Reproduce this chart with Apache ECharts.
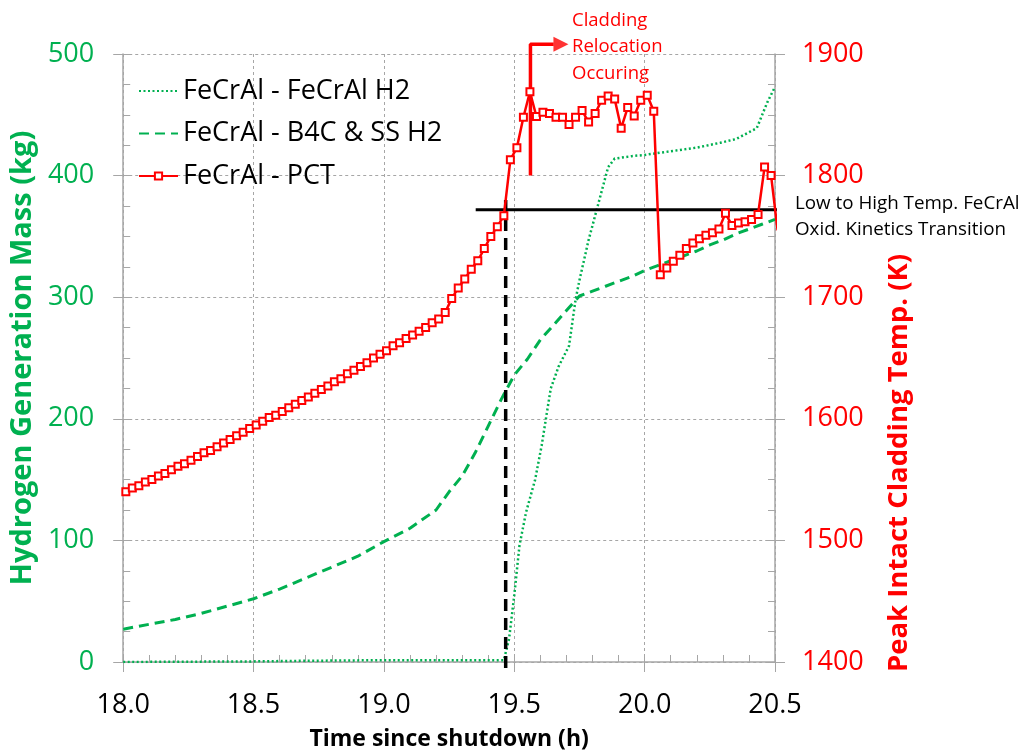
<!DOCTYPE html>
<html><head><meta charset="utf-8">
<script src="https://cdn.jsdelivr.net/npm/echarts@6/dist/echarts.min.js"></script>
<style>html,body{margin:0;padding:0;background:#fff}#c{width:1024px;height:756px}</style>
</head><body><div id="c"></div>
<script>
// ---- data ----
const seriesNames = ['FeCrAl - FeCrAl H2', 'FeCrAl - B4C & SS H2', 'FeCrAl - PCT'];

// FeCrAl H2 (kg), left axis
const feH2Time = [18.0, 18.5, 18.7, 19.0, 19.2, 19.46, 19.465, 19.48, 19.5, 19.52, 19.545, 19.58, 19.605, 19.625, 19.64, 19.67, 19.71, 19.735, 19.75, 19.785, 19.82, 19.86, 19.885, 19.95, 20.0, 20.1, 20.2, 20.29, 20.35, 20.43, 20.47, 20.5];
const feH2Mass = [0, 0.5, 1, 1.5, 1.5, 1.5, 2, 19, 55, 96, 123, 150, 178, 205, 225, 243, 260, 298, 314, 347, 375, 407, 414, 416, 417, 420, 423, 427, 430, 439, 460, 473];

// B4C & SS H2 (kg), left axis
const b4cTime = [18.0, 18.1, 18.2, 18.3, 18.4, 18.5, 18.6, 18.7, 18.8, 18.9, 19.0, 19.1, 19.2, 19.25, 19.3, 19.35, 19.4, 19.45, 19.5, 19.55, 19.6, 19.65, 19.7, 19.75, 19.8, 19.85, 19.9, 19.95, 20.0, 20.05, 20.1, 20.15, 20.2, 20.25, 20.3, 20.35, 20.4, 20.45, 20.5];
const b4cMass = [27, 31, 35, 40, 46, 52, 60, 69, 78, 87, 99, 110, 125, 140, 153, 172, 194, 216, 236, 249, 265, 277, 289, 301, 305, 309, 313, 317, 322, 326, 330, 334, 338, 343, 347, 352, 356, 360, 364];

// Peak cladding temperature (K), right axis
const pctTime = [18.010, 18.035, 18.060, 18.085, 18.110, 18.135, 18.160, 18.185, 18.210, 18.235,
  18.260, 18.285, 18.310, 18.335, 18.360, 18.385, 18.410, 18.435, 18.460, 18.485,
  18.510, 18.535, 18.560, 18.585, 18.610, 18.635, 18.660, 18.685, 18.710, 18.735,
  18.760, 18.785, 18.810, 18.835, 18.860, 18.885, 18.910, 18.935, 18.960, 18.985,
  19.010, 19.035, 19.060, 19.085, 19.110, 19.135, 19.160, 19.185, 19.210, 19.235,
  19.260, 19.285, 19.310, 19.335, 19.360, 19.385, 19.410, 19.435, 19.460, 19.485,
  19.510, 19.535, 19.560, 19.585, 19.610, 19.635, 19.660, 19.685, 19.710, 19.735,
  19.760, 19.785, 19.810, 19.835, 19.860, 19.885, 19.910, 19.935, 19.960, 19.985,
  20.010, 20.035, 20.060, 20.085, 20.110, 20.135, 20.160, 20.185, 20.210, 20.235,
  20.260, 20.285, 20.310, 20.335, 20.360, 20.385, 20.410, 20.435, 20.460, 20.485, 20.510];
const pctTemp = [1540, 1543, 1545, 1548, 1550, 1553, 1555, 1558, 1561, 1563,
  1566, 1569, 1572, 1574, 1577, 1580, 1583, 1586, 1589, 1592,
  1595, 1598, 1601, 1603, 1606, 1609, 1612, 1615, 1618, 1621,
  1624, 1627, 1630.5, 1633, 1637, 1640, 1643, 1646, 1650, 1653,
  1656, 1660, 1662.5, 1666, 1669, 1672, 1675, 1679, 1682, 1687.5,
  1699, 1707.5, 1715, 1723, 1730, 1740, 1750, 1758, 1767, 1813,
  1823, 1848, 1869, 1848.5, 1852, 1851, 1848, 1848, 1842, 1848,
  1853.5, 1844, 1851, 1862, 1865.5, 1863, 1839, 1856, 1849, 1862,
  1866, 1853, 1718.5, 1724, 1729.5, 1734.5, 1740, 1744.5, 1748, 1751,
  1753, 1756, 1769, 1759, 1761, 1762, 1764, 1768, 1807, 1800, 1755];

// annotation lines
const transitionTemp = 1772;           // K
const transitionSpan = [19.352, 20.557];
const onsetTime = 19.467;              // h
const onsetSpan = [1780, 1394];        // K
const relocTime = 19.562;
const relocArrowY = [1800, 1908];
const relocArrowEnd = 19.651;
const relocArrowHead = 19.679;

const xMin = 18.0, xMax = 20.5, xStep = 0.5;
const yLeft = [0, 500, 100];
const yRight = [1400, 1900, 100];

const FONT = 'Open Sans';
const GREEN = '#00B050', RED = '#FF0000';

const pair = (xs, ys) => xs.map((x, i) => [x, ys[i]]);

const chart = echarts.init(document.getElementById('c'));
const axisLineStyle = { color: '#a6a6a6', width: 1.5 };
const gridLine = { show: true, lineStyle: { color: '#a6a6a6', type: [3, 3], width: 1 } };

chart.setOption({
  animation: false,
  backgroundColor: '#fff',
  grid: { left: 117.5, right: 249, top: 54, bottom: 93 },
  legend: {
    data: [
      { name: seriesNames[0], itemStyle: { opacity: 0 } },
      { name: seriesNames[1], itemStyle: { opacity: 0 } },
      { name: seriesNames[2] }
    ],
    orient: 'vertical',
    left: 133, top: 72,
    itemWidth: 39, itemHeight: 9, itemGap: 14.5,
    textStyle: { fontFamily: FONT, fontSize: 27, color: '#000', lineHeight: 28 }
  },
  xAxis: [{
    type: 'value', min: xMin, max: xMax, interval: xStep,
    axisLine: { show: true, lineStyle: axisLineStyle },
    axisTick: { show: true, length: 10, lineStyle: { color: '#a6a6a6' } },
    axisLabel: { fontFamily: FONT, fontSize: 27, color: '#000', margin: 30, formatter: v => v.toFixed(1) },
    splitLine: gridLine,
    name: 'Time since shutdown (h)', nameLocation: 'middle', nameGap: 66,
    nameTextStyle: { fontFamily: FONT, fontSize: 23, fontWeight: 'bold', color: '#000' }
  }, {
    type: 'value', min: xMin, max: xMax, interval: 0.1, position: 'bottom',
    axisLine: { show: false }, axisLabel: { show: false }, splitLine: { show: false },
    axisTick: { show: true, inside: true, length: 7, lineStyle: { color: '#a6a6a6' } }
  }],
  yAxis: [{
    type: 'value', min: yLeft[0], max: yLeft[1], interval: yLeft[2], position: 'left',
    axisLine: { show: true, lineStyle: axisLineStyle },
    axisTick: { show: true, length: 10, lineStyle: { color: '#a6a6a6' } },
    axisLabel: { fontFamily: FONT, fontSize: 27, color: GREEN, margin: 29 },
    splitLine: gridLine,
    name: 'Hydrogen Generation Mass (kg)', nameLocation: 'middle', nameGap: 86, nameRotate: 90,
    nameTextStyle: { fontFamily: FONT, fontSize: 29, fontWeight: 'bold', color: GREEN }
  }, {
    type: 'value', min: yRight[0], max: yRight[1], interval: yRight[2], position: 'right',
    axisLine: { show: true, lineStyle: axisLineStyle },
    axisTick: { show: true, length: 10, lineStyle: { color: '#a6a6a6' } },
    axisLabel: { fontFamily: FONT, fontSize: 27, color: RED, margin: 27, formatter: v => String(v) },
    splitLine: { show: false }
  }, {
    type: 'value', min: yLeft[0], max: yLeft[1], interval: 25, position: 'left',
    axisLine: { show: false }, axisLabel: { show: false }, splitLine: { show: false },
    axisTick: { show: true, inside: true, length: 7, lineStyle: { color: '#a6a6a6' } }
  }, {
    type: 'value', min: yRight[0], max: yRight[1], interval: 25, position: 'right',
    axisLine: { show: false }, axisLabel: { show: false }, splitLine: { show: false },
    axisTick: { show: true, inside: true, length: 7, lineStyle: { color: '#a6a6a6' } }
  }],
  series: [{
    name: seriesNames[0], type: 'line', yAxisIndex: 0, data: pair(feH2Time, feH2Mass),
    showSymbol: false, symbol: 'none',
    lineStyle: { color: GREEN, width: 2.5, type: [2, 2.5] }, itemStyle: { color: GREEN }
  }, {
    name: seriesNames[1], type: 'line', yAxisIndex: 0, data: pair(b4cTime, b4cMass),
    showSymbol: false, symbol: 'none',
    lineStyle: { color: GREEN, width: 3, type: [10, 6] }, itemStyle: { color: GREEN }
  }, {
    name: 'transition', type: 'line', yAxisIndex: 1, clip: false, silent: true,
    data: transitionSpan.map(t => [t, transitionTemp]), symbol: 'none',
    lineStyle: { color: '#000', width: 3 }
  }, {
    name: 'onset', type: 'line', yAxisIndex: 1, clip: false, silent: true,
    data: onsetSpan.map(T => [onsetTime, T]), symbol: 'none',
    lineStyle: { color: '#000', width: 3.5, type: [12, 7] }
  }, {
    name: seriesNames[2], type: 'line', yAxisIndex: 1, data: pair(pctTime, pctTemp),
    symbol: 'emptyRect', symbolSize: 7, showAllSymbol: true, z: 5,
    lineStyle: { color: RED, width: 2.5 }, itemStyle: { color: RED, borderWidth: 1.5 }
  }, {
    name: 'reloc', type: 'line', yAxisIndex: 1, clip: false, silent: true,
    data: [[relocTime, relocArrowY[0]], [relocTime, relocArrowY[1]], [relocArrowEnd, relocArrowY[1]]],
    symbol: 'none', lineStyle: { color: RED, width: 3.5 }
  }, {
    name: 'relocHead', type: 'scatter', yAxisIndex: 1, clip: false, silent: true,
    data: [[relocArrowHead, relocArrowY[1]]], symbol: 'triangle', symbolRotate: -90, symbolSize: [15, 15],
    itemStyle: { color: RED }
  }],
  graphic: [{
    type: 'text', left: 572, top: 7,
    style: { text: 'Cladding\nRelocation\nOccuring', fill: RED, fontFamily: FONT, fontSize: 18.5, lineHeight: 26.5 }
  }, {
    type: 'text', left: 795, top: 190,
    style: { text: 'Low to High Temp. FeCrAl\nOxid. Kinetics Transition', fill: '#000', fontFamily: FONT, fontSize: 18.8, lineHeight: 26.7 }
  }, {
    type: 'text', x: 899, y: 463, rotation: Math.PI / 2,
    style: { text: 'Peak Intact Cladding Temp. (K)', fill: RED, fontFamily: FONT, fontSize: 27.5, fontWeight: 'bold', align: 'center', verticalAlign: 'middle' }
  }]
});
</script>
</body></html>
